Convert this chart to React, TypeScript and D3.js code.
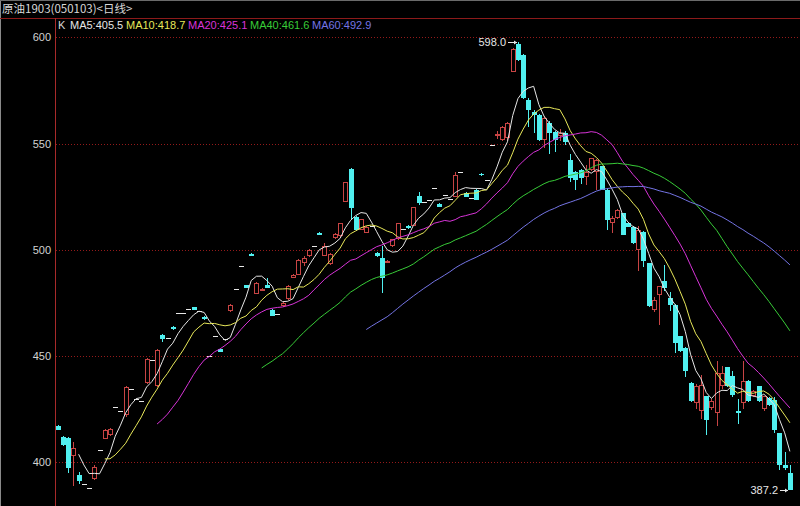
import React, { useEffect } from 'react';
import * as d3 from 'd3';

// daily bars (index 0 = first bar on the left)
const opens = [
  417.1, 412.0, 411.6, 403.0, 393.8, 390.0, 387.7, 392.0, 405.9, 411.2,
  412.7, 426.1, 424.0, 422.1, 434.3, 430.0, 428.8, 437.4, 448.0, 435.8,
  459.8, 458.5, 463.8, 470.3, 470.3, 472.2, 473.0, 471.0, 468.5, 450.2,
  459.3, 453.3, 458.0, 471.0, 481.5, 492.6, 483.3, 498.2, 479.3, 480.7,
  483.5, 471.8, 470.0, 473.4, 476.8, 486.7, 488.3, 493.7, 496.9, 501.6,
  508.0, 497.2, 493.3, 505.5, 506.3, 522.7, 537.9, 515.6, 509.4, 508.1,
  511.0, 498.7, 496.0, 494.0, 501.6, 505.0, 509.7, 511.2, 511.3, 525.4,
  522.7, 523.5, 529.2, 521.5, 526.0, 523.8, 525.0, 536.4, 526.6, 524.3,
  528.2, 535.8, 532.9, 549.3, 553.5, 551.6, 552.5, 583.8, 597.0, 591.8,
  570.6, 565.0, 563.4, 551.6, 559.5, 555.5, 553.5, 554.8, 542.3, 536.8,
  537.6, 534.4, 537.6, 536.8, 539.2, 528.2, 512.5, 514.9, 517.2, 512.5,
  510.9, 500.0, 508.6, 493.7, 471.8, 478.9, 485.1, 477.3, 474.2, 459.3,
  453.8, 437.4, 428.0, 424.1, 431.0, 425.5, 423.2, 435.8, 444.7, 440.5,
  424.1, 428.0, 438.3, 431.1, 435.8, 424.9, 430.2, 429.4, 413.7, 398.8,
  394.9,
];
const highs = [
  417.5, 412.5, 412.0, 409.5, 395.4, 390.0, 387.7, 398.5, 405.9, 415.8,
  416.2, 426.1, 424.0, 436.0, 434.3, 430.0, 428.8, 449.0, 448.0, 453.5,
  460.5, 458.5, 464.0, 470.3, 470.3, 472.2, 473.3, 471.0, 468.8, 450.2,
  459.3, 453.5, 458.0, 474.5, 481.5, 492.6, 483.5, 498.5, 485.0, 482.0,
  486.8, 472.0, 470.0, 475.3, 483.5, 488.6, 495.6, 497.0, 500.3, 501.6,
  508.3, 503.0, 498.3, 507.8, 512.8, 532.0, 538.5, 516.0, 514.7, 511.0,
  511.0, 499.0, 501.9, 495.0, 505.3, 512.8, 509.7, 511.5, 520.3, 527.0,
  522.7, 523.5, 529.2, 521.8, 526.0, 523.8, 536.5, 536.4, 527.0, 524.3,
  528.5, 536.0, 532.9, 549.3, 556.0, 558.2, 560.0, 595.0, 598.0, 592.0,
  571.4, 566.0, 563.8, 563.0, 560.5, 556.0, 557.0, 556.0, 545.0, 537.0,
  538.0, 540.0, 543.3, 542.6, 539.5, 528.5, 516.0, 519.1, 517.5, 512.8,
  511.2, 511.0, 509.0, 494.0, 478.0, 483.1, 493.0, 480.0, 474.5, 459.6,
  454.1, 437.7, 437.0, 441.0, 431.3, 430.0, 447.5, 445.5, 445.0, 443.0,
  430.0, 447.5, 438.6, 433.8, 436.1, 431.3, 430.5, 430.5, 414.0, 405.0,
  398.5,
];
const lows = [
  415.0, 407.5, 395.0, 388.9, 389.9, 390.0, 387.7, 391.5, 405.9, 411.0,
  412.5, 426.1, 424.0, 421.5, 434.3, 430.0, 428.8, 437.0, 448.0, 435.5,
  456.5, 458.5, 462.4, 470.3, 470.3, 472.2, 471.5, 471.0, 467.0, 450.2,
  459.3, 451.8, 458.0, 470.8, 481.5, 492.6, 482.0, 497.0, 479.0, 480.5,
  481.8, 468.8, 470.0, 473.2, 476.5, 486.5, 488.0, 492.5, 496.7, 501.6,
  506.8, 497.0, 493.0, 505.3, 506.0, 522.5, 514.0, 509.0, 509.2, 507.9,
  511.0, 496.6, 479.6, 493.8, 501.4, 504.8, 509.7, 510.0, 511.0, 521.0,
  522.7, 523.5, 529.2, 520.0, 526.0, 523.8, 524.8, 536.4, 524.8, 524.3,
  523.3, 534.8, 532.9, 549.3, 552.0, 551.4, 551.0, 583.5, 589.0, 571.0,
  558.0, 555.0, 551.0, 548.0, 545.0, 546.0, 551.0, 549.5, 532.0, 528.2,
  531.0, 530.5, 537.3, 528.2, 528.0, 509.4, 508.0, 514.6, 506.8, 510.6,
  502.8, 490.0, 492.0, 473.0, 470.5, 464.8, 480.5, 471.0, 451.6, 452.0,
  440.0, 428.5, 425.0, 420.5, 413.0, 424.5, 417.0, 434.5, 435.5, 430.5,
  418.0, 425.0, 428.5, 430.8, 428.5, 424.0, 426.7, 414.0, 396.5, 396.5,
  387.2,
];
const closes = [
  415.2, 408.0, 397.5, 406.9, 391.4, 390.0, 387.7, 398.0, 405.9, 415.4,
  415.9, 426.1, 424.0, 435.4, 434.3, 430.0, 428.8, 448.7, 448.0, 453.0,
  458.2, 458.5, 462.6, 470.3, 470.3, 472.2, 471.8, 471.0, 467.3, 450.2,
  459.3, 452.0, 458.0, 474.2, 481.5, 492.6, 482.2, 497.2, 484.3, 481.7,
  482.2, 469.0, 470.0, 475.0, 482.8, 488.3, 495.3, 496.0, 500.0, 501.6,
  507.0, 501.9, 498.0, 507.5, 512.5, 531.7, 519.6, 509.4, 514.4, 510.7,
  511.0, 496.9, 486.7, 494.8, 505.0, 512.5, 509.7, 510.2, 520.0, 521.9,
  522.7, 523.5, 529.2, 520.3, 526.0, 523.8, 535.2, 536.4, 525.0, 524.3,
  523.5, 535.0, 532.9, 549.3, 554.5, 557.9, 559.5, 594.7, 589.2, 571.4,
  566.0, 563.4, 551.6, 561.9, 554.8, 551.6, 555.0, 550.9, 533.7, 532.9,
  533.7, 536.8, 543.0, 542.3, 528.2, 514.1, 514.9, 518.8, 507.0, 510.9,
  503.1, 509.4, 494.5, 473.4, 476.5, 482.8, 482.0, 474.2, 456.2, 452.3,
  442.9, 428.8, 435.8, 436.6, 420.1, 428.8, 442.0, 442.0, 435.8, 431.9,
  423.4, 438.3, 428.8, 433.5, 428.8, 431.0, 427.0, 415.3, 398.8, 397.3,
  387.2,
];

const priceTicks = [400, 450, 500, 550, 600];
const maPeriods = [5, 10, 20, 40, 60];
const maColors = ['#e6e6e6', '#e8e85a', '#d834d8', '#38cc38', '#7474e4'];
const maLegend = ['MA5:405.5', 'MA10:418.7', 'MA20:425.1', 'MA40:461.6', 'MA60:492.9'];
const legendX = [70, 126, 188, 250, 312];
const title = '原油1903(050103)<日线>';

const W = 800;
const H = 506;
const UP = '#c84444';
const DOWN = '#50f0f0';
const FLAT = '#e8e8e8';

function movingAverage(n: number) {
  return closes.map((_, i) => {
    if (i < n - 1) return null;
    return d3.mean(closes.slice(i - n + 1, i + 1)) as number;
  });
}

export default function App() {
  useEffect(() => {
    document.body.style.margin = '0';
    document.body.style.background = '#000';
  }, []);

  const x = d3.scaleLinear().domain([0, closes.length - 1]).range([57.7, 789.9]);
  const y = d3.scaleLinear().domain([400, 600]).range([462.3, 37.3]);
  const plotLeft = 55;
  const plotTop = 18;

  const font = 'Liberation Sans, Arial, sans-serif';

  const candles = closes.map((c, i) => {
    const o = opens[i];
    const hi = highs[i];
    const lo = lows[i];
    const cx = Math.round(x(i));
    const yo = Math.round(y(o));
    const yc = Math.round(y(c));
    const yh = Math.round(y(hi));
    const yl = Math.round(y(lo));
    if (c > o) {
      return (
        <g key={i}>
          {yh < yc && <line x1={cx + 0.5} x2={cx + 0.5} y1={yh} y2={yc} stroke={UP} />}
          {yl > yo && <line x1={cx + 0.5} x2={cx + 0.5} y1={yo} y2={yl} stroke={UP} />}
          <rect x={cx - 1.5} y={yc + 0.5} width={4} height={Math.max(yo - yc - 1, 0.5)} fill="#000" stroke={UP} />
        </g>
      );
    }
    if (c < o) {
      return (
        <g key={i}>
          <line x1={cx + 0.5} x2={cx + 0.5} y1={yh} y2={yl} stroke={DOWN} />
          <rect x={cx - 2} y={yo} width={5} height={Math.max(yc - yo, 1)} fill={DOWN} />
        </g>
      );
    }
    return (
      <g key={i}>
        {yl > yh && <line x1={cx + 0.5} x2={cx + 0.5} y1={yh} y2={yl} stroke={FLAT} />}
        <line x1={cx - 2} x2={cx + 3} y1={yc + 0.5} y2={yc + 0.5} stroke={FLAT} />
      </g>
    );
  });

  const maPaths = maPeriods.map((n, k) => {
    const vals = movingAverage(n);
    const line = d3
      .line<number | null>()
      .defined((d) => d !== null)
      .x((_, i) => x(i))
      .y((d) => y(d as number));
    return <path key={n} d={line(vals) || ''} fill="none" stroke={maColors[k]} strokeWidth={1} />;
  });

  const maxI = d3.maxIndex(highs);
  const minI = d3.minIndex(lows);
  const maxX = Math.round(x(maxI));
  const maxY = Math.round(y(highs[maxI]));
  const minX = Math.round(x(minI));
  const minY = Math.round(y(lows[minI]));

  return (
    <svg width={W} height={H} style={{ display: 'block', background: '#000' }}>
      <defs>
        <clipPath id="plot">
          <rect x={plotLeft + 1} y={plotTop + 1} width={W - plotLeft} height={H - plotTop} />
        </clipPath>
      </defs>
      <rect x={0} y={0} width={W} height={H} fill="#000" />
      {/* frame */}
      <line x1={0.5} x2={0.5} y1={0} y2={H} stroke="#8a8a8a" />
      <line x1={0} x2={W} y1={0.5} y2={0.5} stroke="#6a6a6a" />
      <line x1={0} x2={W} y1={plotTop + 0.5} y2={plotTop + 0.5} stroke="#8c1a1a" />
      <line x1={plotLeft + 0.5} x2={plotLeft + 0.5} y1={plotTop} y2={H} stroke="#a82a2a" />
      <text x={2} y={13} fill="#d8d8d8" fontSize={11.5} fontFamily="Noto Sans CJK SC, sans-serif">
        {title}
      </text>

      {/* grid and price labels */}
      {priceTicks.map((t) => (
        <g key={t}>
          <line
            x1={plotLeft + 1}
            x2={W}
            y1={Math.round(y(t)) + 0.5}
            y2={Math.round(y(t)) + 0.5}
            stroke="#941a1a"
            strokeDasharray="1 2"
          />
          <text x={51} y={y(t) + 4} textAnchor="end" fill="#d2d2d2" fontSize={11} fontFamily={font}>
            {t}
          </text>
        </g>
      ))}

      {/* legend */}
      <text x={58} y={29} fill="#d8d8d8" fontSize={11} fontFamily={font}>
        K
      </text>
      {maLegend.map((s, k) => (
        <text key={s} x={legendX[k]} y={29} fill={maColors[k]} fontSize={11} fontFamily={font}>
          {s}
        </text>
      ))}

      <g clipPath="url(#plot)">
        {candles}
        {maPaths}
      </g>

      {/* max / min markers */}
      <text x={maxX - 12} y={maxY + 4} textAnchor="end" fill="#e6e6e6" fontSize={11} fontFamily={font}>
        {highs[maxI].toFixed(1)}
      </text>
      <line x1={maxX - 10} x2={maxX - 1} y1={maxY + 0.5} y2={maxY + 0.5} stroke="#e6e6e6" />
      <path d={`M${maxX - 1},${maxY + 0.5} l-3,-2 v4 z`} fill="#e6e6e6" />
      <text x={minX - 12} y={minY + 4} textAnchor="end" fill="#e6e6e6" fontSize={11} fontFamily={font}>
        {lows[minI].toFixed(1)}
      </text>
      <line x1={minX - 10} x2={minX - 2} y1={minY + 0.5} y2={minY + 0.5} stroke="#e6e6e6" />
      <path d={`M${minX - 2},${minY + 0.5} l-3,-2 v4 z`} fill="#e6e6e6" />
    </svg>
  );
}
